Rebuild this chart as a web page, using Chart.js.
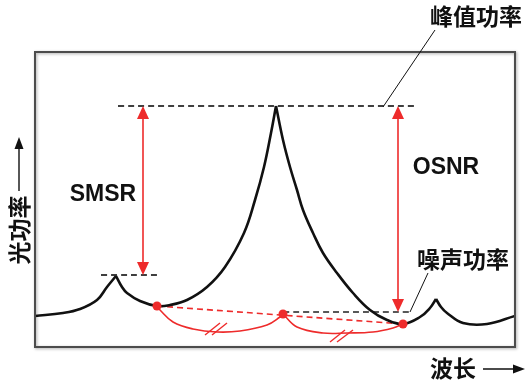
<!DOCTYPE html>
<html>
<head>
<meta charset="utf-8">
<script src="https://cdn.jsdelivr.net/npm/chart.js@4.4.1/dist/chart.umd.min.js"></script>
<style>
  html, body { margin: 0; padding: 0; background: #fff; }
</style>
</head>
<body>
<canvas id="spectrum" width="527" height="385"></canvas>
<script>
// spectrum curve, split at the cusps (wavelength, power)
const tailLeft = [[0,31],[28,34],[45,38],[62,47],[72,60],[81,71]];
const sideToPeak = [[81,71],[87,60],[92,54],[105,46],[122,41],[135,42],[152,47],[172,60],[190,80],[209,114],[220,147],[229,180],[236,214],[241,241]];
const peakToSide = [[241,241],[248,207],[255,180],[262,157],[268,137],[278,114],[288,94],[302,74],[318,54],[335,37],[352,27],[368,23],[385,30],[395,39],[401,48]];
const tailRight = [[401,48],[406,40],[412,34],[428,24],[452,23],[480,31]];

// levels
const peakLevel = 241;
const sideLevel = 72;
const noiseLevel = 35;
const peakLineX = [83, 382];
const sideLineX = [66, 123];
const noiseLineX = [248, 378];
const smsrX = 108;
const osnrX = 363;

// noise estimation points and the spans between them
const noisePoints = [[122,41],[248,33],[368,23]];
const arcLeft = [[122,41],[125,37],[138,25],[158,18],[182,15],[205,16],[232,22],[245,30],[248,33]];
const arcRight = [[248,33],[262,20],[288,14],[312,14],[338,15],[358,19],[368,23]];
const hashLeft = [[[170,12],[185,24]], [[177,12],[192,24]]];
const hashRight = [[[295,5],[310,17]], [[302,5],[318,17]]];

const RED = '#ee2b2b';
const BLACK = '#111';

const pts = arr => arr.map(p => ({ x: p[0], y: p[1] }));

function lineSet(data, color, width, extra) {
  return Object.assign({
    data: pts(data),
    showLine: true,
    borderColor: color,
    borderWidth: width,
    pointRadius: 0,
    tension: 0.4
  }, extra || {});
}

const datasets = [
  { data: pts(noisePoints), showLine: false, pointRadius: 4.5, pointBackgroundColor: RED, pointBorderWidth: 0 },
  lineSet(tailLeft, BLACK, 2.6),
  lineSet(sideToPeak, BLACK, 2.6),
  lineSet(peakToSide, BLACK, 2.6),
  lineSet(tailRight, BLACK, 2.6),
  lineSet(arcLeft, RED, 1.6),
  lineSet(arcRight, RED, 1.6),
  lineSet([noisePoints[0], noisePoints[2]], RED, 1.6, { borderDash: [6, 4] }),
  lineSet(peakLineX.map(v => [v, peakLevel]), '#000', 1.3, { borderDash: [6, 4] }),
  lineSet(sideLineX.map(v => [v, sideLevel]), '#000', 1.3, { borderDash: [6, 4] }),
  lineSet(noiseLineX.map(v => [v, noiseLevel]), '#222', 1.3, { borderDash: [6, 4] })
];
hashLeft.concat(hashRight).forEach(h => datasets.push(lineSet(h, RED, 1.4, { tension: 0 })));

function arrowHead(ctx, x, y, dx, dy, len, half) {
  // tip at (x,y), pointing along (dx,dy)
  ctx.beginPath();
  ctx.moveTo(x, y);
  ctx.lineTo(x - dx * len - dy * half, y - dy * len + dx * half);
  ctx.lineTo(x - dx * len + dy * half, y - dy * len - dx * half);
  ctx.closePath();
  ctx.fill();
}

const overlay = {
  id: 'overlay',
  afterDatasetsDraw(chart) {
    const { ctx, chartArea: a, scales: { x, y } } = chart;
    ctx.save();

    // plot frame
    ctx.save();
    ctx.shadowColor = 'rgba(0,0,0,0.35)';
    ctx.shadowBlur = 3;
    ctx.shadowOffsetX = 1;
    ctx.shadowOffsetY = 1;
    ctx.strokeStyle = '#4c4c4c';
    ctx.lineWidth = 2;
    ctx.strokeRect(a.left, a.top, a.width, a.height);
    ctx.restore();

    // SMSR / OSNR arrows
    ctx.strokeStyle = RED;
    ctx.fillStyle = RED;
    ctx.lineWidth = 1.6;
    [[smsrX, sideLevel], [osnrX, noiseLevel]].forEach(([vx, lo]) => {
      const px = x.getPixelForValue(vx);
      const top = y.getPixelForValue(peakLevel);
      const bot = y.getPixelForValue(lo);
      ctx.beginPath();
      ctx.moveTo(px, top + 10);
      ctx.lineTo(px, bot - 10);
      ctx.stroke();
      arrowHead(ctx, px, top, 0, -1, 13, 6);
      arrowHead(ctx, px, bot, 0, 1, 13, 6);
    });

    // leader lines
    ctx.strokeStyle = BLACK;
    ctx.lineWidth = 1;
    ctx.beginPath();
    ctx.moveTo(435, 30);
    ctx.lineTo(x.getPixelForValue(peakLineX[1]) - 34, y.getPixelForValue(peakLevel) + 1);
    ctx.moveTo(428, 273);
    ctx.lineTo(x.getPixelForValue(noiseLineX[1]) - 3, y.getPixelForValue(noiseLevel));
    ctx.stroke();

    // labels
    ctx.fillStyle = BLACK;
    ctx.textAlign = 'center';
    ctx.textBaseline = 'middle';
    ctx.font = 'bold 23px "Noto Sans CJK SC"';
    ctx.fillText('峰值功率', 476, 16);
    ctx.fillText('噪声功率', 463, 259);
    ctx.fillText('波长', 453, 368);
    ctx.font = 'bold 23px "Liberation Sans"';
    ctx.fillText('OSNR', 446, 168);
    ctx.fillText('SMSR', 103, 195);

    ctx.save();
    ctx.translate(19, 230);
    ctx.rotate(-Math.PI / 2);
    ctx.font = 'bold 23px "Noto Sans CJK SC"';
    ctx.fillText('光功率', 0, 0);
    ctx.restore();

    // axis direction arrows
    ctx.lineWidth = 1.4;
    ctx.beginPath();
    ctx.moveTo(19, 191);
    ctx.lineTo(19, 146);
    ctx.moveTo(483, 369);
    ctx.lineTo(515, 369);
    ctx.stroke();
    arrowHead(ctx, 19, 137, 0, -1, 12, 4.5);
    arrowHead(ctx, 525, 369, 1, 0, 12, 4.5);

    ctx.restore();
  }
};

new Chart(document.getElementById('spectrum'), {
  type: 'scatter',
  data: { datasets: datasets },
  options: {
    responsive: false,
    animation: false,
    layout: { padding: { left: 35, top: 52, right: 12, bottom: 38 } },
    plugins: { legend: { display: false }, tooltip: { enabled: false } },
    scales: {
      x: { type: 'linear', min: 0, max: 480, display: false },
      y: { type: 'linear', min: 0, max: 295, display: false }
    }
  },
  plugins: [overlay]
});
</script>
</body>
</html>
